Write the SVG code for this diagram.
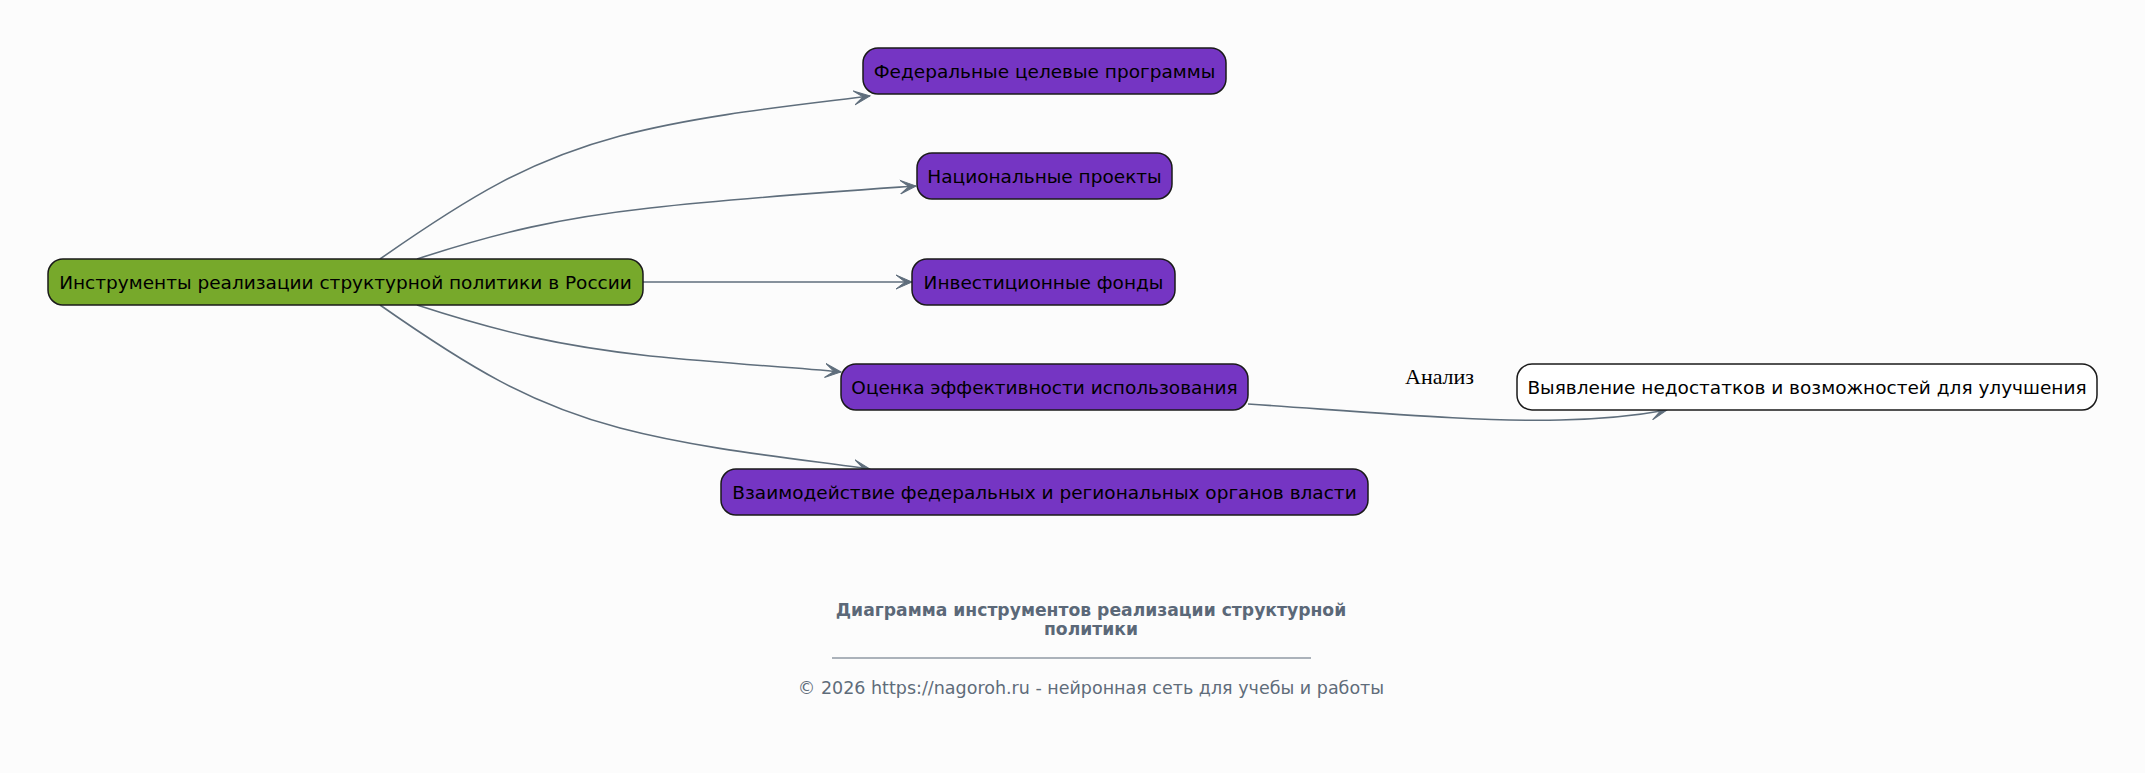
<svg xmlns="http://www.w3.org/2000/svg" width="2145" height="773" viewBox="0 0 2145 773">
<style>
.bg{fill:#fcfcfc}
.n rect{stroke:#1a1a1a;stroke-width:1.5}
.root rect{fill:#77a92b}
.pur rect{fill:#7535c3}
.wht rect{fill:#ffffff}
.n text{font-family:"DejaVu Sans",sans-serif;font-size:18.5px;fill:#000;text-anchor:middle;dominant-baseline:central}
.e{fill:none;stroke:#5f6e7c;stroke-width:1.6;marker-end:url(#arr)}
.lbl{font-family:"Liberation Serif",serif;font-size:22px;fill:#000}
.title{font-family:"DejaVu Sans",sans-serif;font-size:17.2px;font-weight:bold;fill:#5b6878;text-anchor:middle}
.copy{font-family:"DejaVu Sans",sans-serif;font-size:17.5px;fill:#5f6c7a;text-anchor:middle}
</style>
<defs>
<marker id="arr" markerWidth="18" markerHeight="16" refX="16" refY="8" orient="auto" markerUnits="userSpaceOnUse">
<path d="M0,1 L16,8 L0,15 L9,8 z" fill="#5f6e7c" stroke="#5f6e7c" stroke-width="1" stroke-linejoin="miter"/>
</marker>
</defs>
<rect class="bg" x="0" y="0" width="2145" height="773"/>
<g id="connectors">
<path class="e" d="M380,259 C470,196 530,160 620,136 C700,115 790,106 870,96"/>
<path class="e" d="M417,259 C500,232 560,218 650,208 C740,198 830,192 916,186"/>
<path class="e" d="M643,282 L912,282"/>
<path class="e" d="M417,305 C500,332 560,346 650,356 C730,364 790,367 841,372"/>
<path class="e" d="M380,305 C470,368 530,404 620,428 C700,449 790,458 870,469"/>
<path class="e" d="M1248,404 C1380,413 1480,422 1560,420 C1610,419 1640,415 1667,410"/>
<text class="lbl" x="1405" y="384">Анализ</text>
</g>
<g id="root" class="n root">
<rect x="48" y="259" width="595" height="46" rx="15"/>
<text x="345.5" y="282">Инструменты реализации структурной политики в России</text>
</g>
<g id="fed" class="n pur">
<rect x="863" y="48" width="363" height="46" rx="15"/>
<text x="1044.5" y="71">Федеральные целевые программы</text>
</g>
<g id="nat" class="n pur">
<rect x="917" y="153" width="255" height="46" rx="15"/>
<text x="1044.5" y="176">Национальные проекты</text>
</g>
<g id="inv" class="n pur">
<rect x="912" y="259" width="263" height="46" rx="15"/>
<text x="1043.5" y="282">Инвестиционные фонды</text>
</g>
<g id="ots" class="n pur">
<rect x="841" y="364" width="407" height="46" rx="15"/>
<text x="1044.5" y="387">Оценка эффективности использования</text>
</g>
<g id="vz" class="n pur">
<rect x="721" y="469" width="647" height="46" rx="15"/>
<text x="1044.5" y="492">Взаимодействие федеральных и региональных органов власти</text>
</g>
<g id="vyy" class="n wht">
<rect x="1517" y="364" width="580" height="46" rx="15"/>
<text x="1807" y="387">Выявление недостатков и возможностей для улучшения</text>
</g>
<g id="footer">
<text class="title" x="1091" y="616">Диаграмма инструментов реализации структурной</text>
<text class="title" x="1091" y="635">политики</text>
<line x1="832" y1="658" x2="1311" y2="658" stroke="#5b6878" stroke-width="1"/>
<text class="copy" x="1091" y="694">© 2026 https://nagoroh.ru - нейронная сеть для учебы и работы</text>
</g>
</svg>
